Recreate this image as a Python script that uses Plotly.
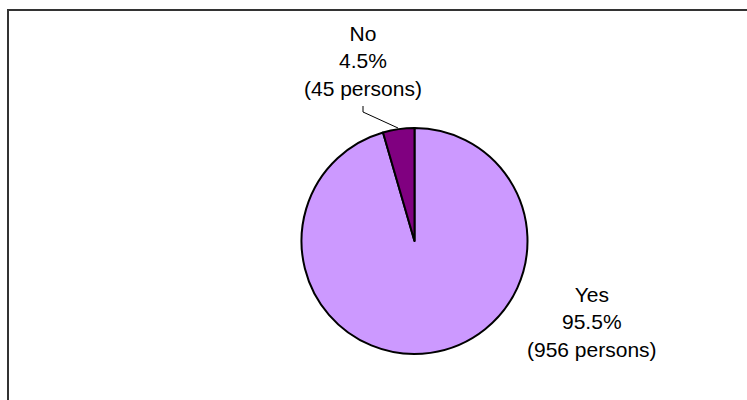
import plotly.graph_objects as go

labels = ["Yes", "No"]
values = [956, 45]
percents = ["95.5%", "4.5%"]
colors = ["#CC99FF", "#800080"]

W, H = 747, 400
def px(x): return x / W
def py(y): return 1 - y / H

cx, cy, r = 414.5, 241, 113

fig = go.Figure(go.Pie(
    labels=labels, values=values, sort=False, direction="clockwise",
    rotation=0, textinfo="none", hoverinfo="label+percent",
    marker=dict(colors=colors, line=dict(color="black", width=2)),
    domain=dict(x=[px(cx - r), px(cx + r)], y=[py(cy + r), py(cy - r)]),
    showlegend=False,
))

label_pos = {"No": (363, 61), "Yes": (592, 322)}
for lab, v, p in zip(labels, values, percents):
    x, y = label_pos[lab]
    fig.add_annotation(
        x=px(x), y=py(y), xref="paper", yref="paper", showarrow=False,
        text=f"{lab}<br>{p}<br>({v} persons)", xanchor="center", yanchor="middle",
        font=dict(family="Liberation Sans, Arial", size=21, color="black"),
    )

# leader line for "No"
fig.add_shape(type="path", xref="paper", yref="paper",
              path=f"M {px(363)} {py(106)} L {px(363)} {py(112)} L {px(398)} {py(128)}",
              line=dict(color="black", width=1))
# chart border: only top and left edges are visible in the frame
fig.add_shape(type="line", xref="paper", yref="paper",
              x0=px(8), y0=py(10), x1=1, y1=py(10),
              line=dict(color="#333333", width=2))
fig.add_shape(type="line", xref="paper", yref="paper",
              x0=px(8), y0=py(9), x1=px(8), y1=0,
              line=dict(color="#333333", width=2))

fig.update_layout(width=W, height=H, margin=dict(l=0, r=0, t=0, b=0),
                  paper_bgcolor="white", plot_bgcolor="white")
fig.write_html("out.html", config={"displayModeBar": False})
